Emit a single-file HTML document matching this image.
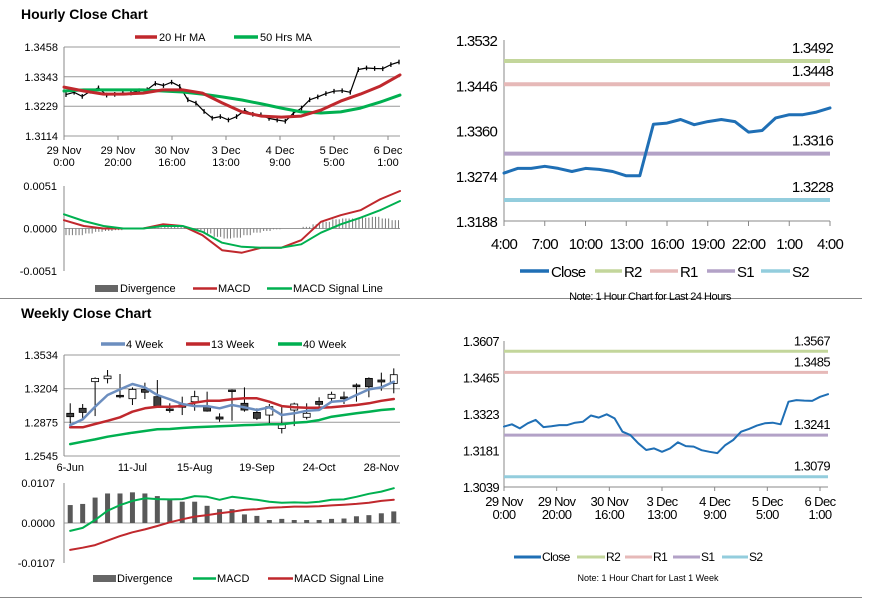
<!DOCTYPE html>
<html><head><meta charset="utf-8">
<style>
html,body{margin:0;padding:0;background:#fff;}
svg{display:block;font-family:"Liberation Sans",Arial,sans-serif;}
</style></head>
<body>
<svg id="s" width="873" height="601" viewBox="0 0 873 601" xmlns="http://www.w3.org/2000/svg">
<rect x="0" y="0" width="873" height="601" fill="#fff"/>
<text x="21" y="19" font-size="14" font-weight="bold" fill="#000">Hourly Close Chart</text>
<text x="21" y="318" font-size="14" font-weight="bold" fill="#000">Weekly Close Chart</text>
<line x1="0" y1="298.5" x2="862" y2="298.5" stroke="#888" stroke-width="1"/>
<line x1="0" y1="597.5" x2="862" y2="597.5" stroke="#888" stroke-width="1"/>
</svg>
<script>
// ---------- DATA ----------
const hourlyClose=[1.3274,1.3283,1.3267,1.3287,1.3300,1.3272,1.3275,1.3280,1.3280,1.3289,1.3293,1.3317,1.3309,1.3322,1.3306,1.3254,1.3241,1.3209,1.3183,1.3189,1.3176,1.3189,1.3213,1.3198,1.3196,1.3182,1.3176,1.3171,1.3202,1.3222,1.3254,1.3265,1.3278,1.3287,1.3289,1.3283,1.3371,1.3377,1.3375,1.3374,1.3390,1.3400];
const ma20=[1.3303,1.3288,1.3276,1.3276,1.3280,1.3292,1.3292,1.3280,1.3242,1.3207,1.3191,1.3187,1.3191,1.3214,1.3249,1.3276,1.3307,1.3350];
const ma50=[1.3288,1.3292,1.3292,1.3292,1.3292,1.3288,1.3284,1.3276,1.3265,1.3253,1.3238,1.3222,1.3207,1.3203,1.3207,1.3222,1.3245,1.3272];
const hMacd=[0.0010,0.0003,0,0,0,0.0005,0.0003,-0.0008,-0.0026,-0.0029,-0.0023,-0.0023,-0.0014,0.0008,0.0016,0.0022,0.0035,0.0045];
const hSignal=[0.0017,0.0009,0.0003,0,0,0.0003,0.0003,-0.0004,-0.0017,-0.0022,-0.0023,-0.0023,-0.0019,-0.0005,0.0005,0.0013,0.0022,0.0033];
const hDiv=[-0.0008,-0.0008,-0.0006,-0.0004,-0.0003,-0.0002,-0.0001,0,0,0.0001,0.0002,0.0002,0.0001,-0.0002,-0.0006,-0.0010,-0.0012,-0.0011,-0.0008,-0.0005,-0.0003,-0.0001,0,0,0.0002,0.0005,0.0008,0.0011,0.0012,0.0012,0.0013,0.0014,0.0012,0.0010];
const hourlyTicks=["1.3114","1.3229","1.3343","1.3458"];
const hMacdTicks=["-0.0051","0.0000","0.0051"];
const hourLabels1=["29 Nov","29 Nov","30 Nov","3 Dec","4 Dec","5 Dec","6 Dec"];
const hourLabels2=["0:00","20:00","16:00","13:00","9:00","5:00","1:00"];

const wOpen=[1.2963,1.3012,1.3273,1.3302,1.3139,1.3106,1.3197,1.3126,1.3005,1.3044,1.3077,1.3028,1.2927,1.3191,1.3061,1.2972,1.2946,1.2815,1.2995,1.2924,1.3080,1.3110,1.3123,1.3240,1.3305,1.3289,1.3256];
const wHigh=[1.3061,1.3054,1.3315,1.3387,1.3348,1.3217,1.3263,1.3289,1.3061,1.3126,1.3184,1.3175,1.2963,1.3197,1.3217,1.3012,1.3054,1.3028,1.3067,1.3061,1.3120,1.3175,1.3175,1.3256,1.3315,1.3361,1.3403];
const wLow=[1.2864,1.2914,1.2936,1.3256,1.3110,1.3044,1.3103,1.3028,1.2969,1.2946,1.2988,1.2979,1.2880,1.2890,1.2979,1.2897,1.2864,1.2766,1.2838,1.2903,1.3012,1.3086,1.3054,1.3077,1.3120,1.3184,1.3159];
const wClose=[1.2930,1.2972,1.3305,1.3328,1.3126,1.3197,1.3169,1.3034,1.2992,1.3022,1.3126,1.2985,1.2907,1.3181,1.2995,1.2914,1.3028,1.2864,1.3054,1.2963,1.3051,1.3149,1.3106,1.3223,1.3223,1.3270,1.3341];
const w4=[1.2848,1.2903,1.3028,1.3142,1.3197,1.3250,1.3217,1.3142,1.3100,1.3054,1.3034,1.3034,1.3012,1.3044,1.3022,1.2995,1.3022,1.2946,1.2963,1.2988,1.2995,1.3077,1.3086,1.3142,1.3197,1.3217,1.3273];
const w13=[1.2826,1.2826,1.2858,1.2890,1.2924,1.2979,1.3012,1.3028,1.3028,1.3034,1.3067,1.3086,1.3086,1.3100,1.3110,1.3110,1.3077,1.3034,1.3022,1.3018,1.3018,1.3022,1.3034,1.3044,1.3061,1.3086,1.3103];
const w40=[1.2662,1.2685,1.2708,1.2734,1.2754,1.2773,1.2790,1.2806,1.2809,1.2819,1.2826,1.2832,1.2836,1.2842,1.2848,1.2851,1.2855,1.2855,1.2871,1.2878,1.2897,1.2930,1.2946,1.2963,1.2979,1.2995,1.3005];
const wDiv=[0.0048,0.0051,0.0068,0.0079,0.0079,0.0082,0.0079,0.0072,0.0063,0.0057,0.0057,0.0046,0.0037,0.0037,0.0023,0.0019,0.0008,0.0011,0.0008,0.0008,0.0008,0.0011,0.0012,0.0018,0.0021,0.0026,0.0031];
const wMacd=[-0.0021,-0.0013,0.0008,0.0033,0.0048,0.0059,0.0066,0.0064,0.0063,0.0064,0.0072,0.0070,0.0062,0.0070,0.0066,0.0062,0.0057,0.0054,0.0055,0.0054,0.0057,0.0062,0.0063,0.0070,0.0078,0.0084,0.0093];
const wSignal=[-0.0072,-0.0066,-0.0059,-0.0047,-0.0035,-0.0025,-0.0017,-0.0008,0.0002,0.0010,0.0017,0.0021,0.0026,0.0030,0.0035,0.0037,0.0041,0.0042,0.0044,0.0044,0.0045,0.0047,0.0049,0.0051,0.0054,0.0059,0.0062];
const weekTicks=["1.2545","1.2875","1.3204","1.3534"];
const wMacdTicks=["-0.0107","0.0000","0.0107"];
const weekLabels=["6-Jun","11-Jul","15-Aug","19-Sep","24-Oct","28-Nov"];

const dayClose=[1.3279,1.3288,1.3288,1.3292,1.3288,1.3282,1.3288,1.3286,1.3282,1.3274,1.3274,1.3372,1.3374,1.3381,1.3371,1.3377,1.3381,1.3377,1.3357,1.3360,1.3384,1.3390,1.3390,1.3395,1.3403];
const dayLevels=[1.3492,1.3448,1.3316,1.3228];
const dayTicks=["1.3188","1.3274","1.3360","1.3446","1.3532"];
const dayLabels=["4:00","7:00","10:00","13:00","16:00","19:00","22:00","1:00","4:00"];
const weekLevels=[1.3567,1.3485,1.3241,1.3079];
const wkTicks=["1.3039","1.3181","1.3323","1.3465","1.3607"];
const levelNames=["R2","R1","S1","S2"];

// ---------- HELPERS ----------
const NS="http://www.w3.org/2000/svg";
const svg=document.getElementById('s');
function mk(tag,attrs,parent){const e=document.createElementNS(NS,tag);for(const k in attrs)e.setAttribute(k,attrs[k]);(parent||svg).appendChild(e);return e;}
function lin(d0,d1,r0,r1){return v=>r0+(v-d0)*(r1-r0)/(d1-d0);}
function txt(x,y,s,size,anchor,extra){const t=mk('text',Object.assign({x:x,y:y,'font-size':size,'text-anchor':anchor||'start',fill:'#000'},extra||{}));t.textContent=s;return t;}
function poly(pts,color,w){return mk('polyline',{points:pts.map(p=>p[0].toFixed(1)+','+p[1].toFixed(1)).join(' '),fill:'none',stroke:color,'stroke-width':w,'stroke-linejoin':'round','stroke-linecap':'round'});}
const RED="#c0282d",GREEN="#00b050",BLUE4="#6c8ebf",CLOSE="#1f6fb5";
const LVC=["#c3d69b","#e6b9b8","#b3a2c7","#93cddd"];
const AX="#888",GRID="#999";

// ---------- HOURLY TOP-LEFT ----------
{
 const y=lin(1.3114,1.3458,136,47);
 const x0=64,x1=400;
 hourlyTicks.forEach(t=>{const yy=y(parseFloat(t));
  const g=mk('line',{x1:x0,y1:yy,x2:x1,y2:yy,stroke:GRID,'stroke-width':1});
  
  const tl=txt(58,yy+4,t,11,'end');});
 mk('line',{x1:x0,y1:47,x2:x0,y2:139,stroke:AX});
 const tx=lin(0,6,64,388);
 hourLabels1.forEach((l,i)=>{const xx=tx(i);mk('line',{x1:xx,y1:136,x2:xx,y2:140,stroke:AX});
  const a=txt(xx,154,l,11,'middle');
  const b=txt(xx,166,hourLabels2[i],11,'middle');});
 const xi=lin(0,hourlyClose.length-1,x0+2,x1-1);
 const cl=poly(hourlyClose.map((v,i)=>[xi(i),y(v)]),'#000',1.2);
 
 hourlyClose.forEach((v,i)=>{const b=mk('line',{x1:xi(i),y1:y(v+0.0009),x2:xi(i),y2:y(v-0.0009),stroke:'#000','stroke-width':1.3});
  });
 const xm=lin(0,ma50.length-1,x0,x1);
 const l50=poly(ma50.map((v,i)=>[xm(i),y(v)]),GREEN,3);
 const l20=poly(ma20.map((v,i)=>[xm(i),y(v)]),RED,3);
 mk('line',{x1:135,y1:37,x2:157,y2:37,stroke:RED,'stroke-width':3.5,});
 txt(159,41,"20 Hr MA",11);
 mk('line',{x1:234,y1:37,x2:258,y2:37,stroke:GREEN,'stroke-width':3.5,});
 txt(260,41,"50 Hrs MA",11);
}
// ---------- HOURLY MACD ----------
{
 const y=lin(-0.0051,0.0051,271,186);
 const x0=64,x1=400;
 hMacdTicks.forEach(t=>{const tl=txt(57,y(parseFloat(t))+4,t,11,'end');});
 mk('line',{x1:x0,y1:186,x2:x0,y2:271,stroke:AX});
 mk('line',{x1:x0,y1:y(0),x2:x1,y2:y(0),stroke:GRID});
 const step=(x1-x0)/hDiv.length;
 hDiv.forEach((v,i)=>{for(let k=0;k<3;k++){const xx=x0+2+i*step+k*3.2;
  const b=mk('line',{x1:xx,y1:y(0),x2:xx,y2:y(v),stroke:'#777','stroke-width':1});
  }});
 const xm=lin(0,hMacd.length-1,x0,x1);
 const a=poly(hMacd.map((v,i)=>[xm(i),y(v)]),RED,2);
 const b=poly(hSignal.map((v,i)=>[xm(i),y(v)]),GREEN,2);
 mk('rect',{x:95,y:285,width:23,height:7,fill:'#666',});
 txt(120,292,"Divergence",11);
 mk('line',{x1:193,y1:288.5,x2:217,y2:288.5,stroke:RED,'stroke-width':2.5,});
 txt(218,292,"MACD",11);
 mk('line',{x1:267,y1:288.5,x2:292,y2:288.5,stroke:GREEN,'stroke-width':2.5,});
 txt(293,292,"MACD Signal Line",11);
}
// ---------- WEEKLY ----------
{
 const y=lin(1.2545,1.3534,456,355);
 const x0=64,x1=400,bw=(x1-x0)/wOpen.length;
 const cx=i=>x0+bw*(i+0.5);
 weekTicks.forEach(t=>{const yy=y(parseFloat(t));
  const g=mk('line',{x1:x0,y1:yy,x2:x1,y2:yy,stroke:GRID});
  const tl=txt(58,yy+4,t,11,'end');});
 mk('line',{x1:x0,y1:355,x2:x0,y2:456,stroke:AX});
 weekLabels.forEach((l,i)=>{const tl=txt(cx(i*5),471,l,11,'middle');});
 wOpen.forEach((o,i)=>{const c=wClose[i];
  const w=mk('line',{x1:cx(i),y1:y(wHigh[i]),x2:cx(i),y2:y(wLow[i]),stroke:'#000','stroke-width':1});
  
  const top=y(Math.max(o,c)),bot=y(Math.min(o,c));
  const r=mk('rect',{x:cx(i)-3.5,y:top,width:7,height:Math.max(1.5,bot-top),fill:c<o?'#404040':'#fff',stroke:'#000','stroke-width':0.8});
  });
 const a=poly(w40.map((v,i)=>[cx(i),y(v)]),GREEN,2.5);
 const b=poly(w13.map((v,i)=>[cx(i),y(v)]),RED,2.5);
 const c=poly(w4.map((v,i)=>[cx(i),y(v)]),BLUE4,2.5);
 mk('line',{x1:101,y1:344,x2:125,y2:344,stroke:BLUE4,'stroke-width':3.5,});
 txt(126,348,"4 Week",11);
 mk('line',{x1:186,y1:344,x2:210,y2:344,stroke:RED,'stroke-width':3.5,});
 txt(211,348,"13 Week",11);
 mk('line',{x1:278,y1:344,x2:302,y2:344,stroke:GREEN,'stroke-width':3.5,});
 txt(303,348,"40 Week",11);
}
// ---------- WEEKLY MACD ----------
{
 const y=lin(-0.0107,0.0107,563,483);
 const x0=64,x1=400,bw=(x1-x0)/wDiv.length;
 const cx=i=>x0+bw*(i+0.5);
 wMacdTicks.forEach(t=>{const tl=txt(55,y(parseFloat(t))+4,t,11,'end');});
 mk('line',{x1:x0,y1:483,x2:x0,y2:563,stroke:AX});
 mk('line',{x1:x0,y1:y(0),x2:x1,y2:y(0),stroke:GRID});
 wDiv.forEach((v,i)=>{const r=mk('rect',{x:cx(i)-2.5,y:Math.min(y(v),y(0)),width:5,height:Math.abs(y(v)-y(0)),fill:'#595959'});
  });
 const a=poly(wMacd.map((v,i)=>[cx(i),y(v)]),GREEN,2);
 const b=poly(wSignal.map((v,i)=>[cx(i),y(v)]),RED,2);
 mk('rect',{x:93,y:575,width:23,height:7,fill:'#666',});
 txt(117,582,"Divergence",11);
 mk('line',{x1:193,y1:578.5,x2:216,y2:578.5,stroke:GREEN,'stroke-width':2.5,});
 txt(217,582,"MACD",11);
 mk('line',{x1:268,y1:578.5,x2:293,y2:578.5,stroke:RED,'stroke-width':2.5,});
 txt(294,582,"MACD Signal Line",11);
}
// ---------- DAY (TOP-RIGHT) ----------
{
 const y=lin(1.3188,1.3532,221,40);
 const x0=504,x1=830;
 const nar={'letter-spacing':'-0.8'};
 dayTicks.forEach(t=>{const tl=txt(497,y(parseFloat(t))+6,t,15,'end',nar);});
 mk('line',{x1:x0,y1:40,x2:x0,y2:221,stroke:AX});
 mk('line',{x1:x0,y1:221,x2:x1,y2:221,stroke:AX});
 const tx=lin(0,dayLabels.length-1,x0,x1);
 dayLabels.forEach((l,i)=>{mk('line',{x1:tx(i),y1:221,x2:tx(i),y2:226,stroke:AX});
  const tl=txt(tx(i),249,l,15,'middle',nar);});
 dayLevels.forEach((v,i)=>{const l=mk('line',{x1:x0,y1:y(v),x2:x1,y2:y(v),stroke:LVC[i],'stroke-width':4});
  
  const tl=txt(833,y(v)-8,v.toFixed(4),15,'end',nar);});
 const xi=lin(0,dayClose.length-1,x0,x1);
 const p=poly(dayClose.map((v,i)=>[xi(i),y(v)]),CLOSE,3);
 const lg=[["Close",520,549,CLOSE],["R2",595,622,LVC[0]],["R1",650,678,LVC[1]],["S1",707,735,LVC[2]],["S2",761,790,LVC[3]]];
 lg.forEach(e=>{const l=mk('line',{x1:e[1],y1:271,x2:e[2],y2:271,stroke:e[3],'stroke-width':3.5});
  
  txt(e[2]+2,277,e[0],15,'start',nar);});
 const n=txt(650,300,"Note: 1 Hour Chart for Last 24 Hours",11,'middle',{'letter-spacing':'-0.5'});
}
// ---------- WEEK HOURLY (BOTTOM-RIGHT) ----------
{
 const y=lin(1.3039,1.3607,487,341);
 const x0=504,x1=828;
 const nar={'letter-spacing':'-0.6'};
 wkTicks.forEach(t=>{const tl=txt(499,y(parseFloat(t))+5,t,13,'end',nar);});
 mk('line',{x1:x0,y1:341,x2:x0,y2:487,stroke:AX});
 mk('line',{x1:x0,y1:487,x2:x1,y2:487,stroke:AX});
 const tx=lin(0,6,504,820);
 hourLabels1.forEach((l,i)=>{const xx=tx(i);mk('line',{x1:xx,y1:487,x2:xx,y2:491,stroke:AX});
  const a=txt(xx,506,l,13,'middle',nar);
  const b=txt(xx,519,hourLabels2[i],13,'middle',nar);});
 weekLevels.forEach((v,i)=>{const l=mk('line',{x1:x0,y1:y(v),x2:x1,y2:y(v),stroke:LVC[i],'stroke-width':3});
  
  const tl=txt(830,y(v)-6,v.toFixed(4),13,'end',nar);});
 const xi=lin(0,hourlyClose.length-1,x0,x1);
 const p=poly(hourlyClose.map((v,i)=>[xi(i),y(v)]),CLOSE,2);
 const lg=[["Close",514,541,CLOSE],["R2",577,605,LVC[0]],["R1",625,652,LVC[1]],["S1",673,700,LVC[2]],["S2",722,748,LVC[3]]];
 lg.forEach(e=>{const l=mk('line',{x1:e[1],y1:557,x2:e[2],y2:557,stroke:e[3],'stroke-width':3});
  
  txt(e[2]+1,561,e[0],12,'start',nar);});
 const n=txt(648,581,"Note: 1 Hour Chart for  Last 1 Week",9,'middle');
}
</script>
</body></html>
